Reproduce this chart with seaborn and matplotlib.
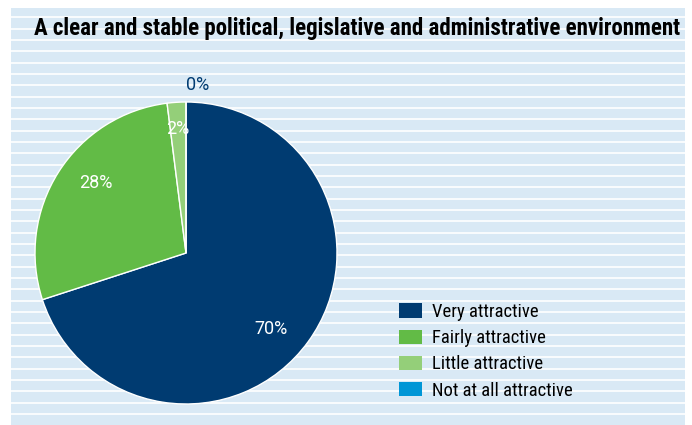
import numpy as np
import matplotlib
matplotlib.use("Agg")
import matplotlib.pyplot as plt
from matplotlib.patches import Patch
import seaborn as sns

# Survey answers for one location factor
categories = ["Very attractive", "Fairly attractive", "Little attractive", "Not at all attractive"]
shares = [70, 28, 2, 0]
pct_labels = ["70%", "28%", "2%", "0%"]
colors = ["#003b71", "#62bb46", "#94cf79", "#0096d6"]
title = "A clear and stable political, legislative and administrative environment"

sns.set_theme(style="white")
narrow = ["Roboto Condensed", "DejaVu Sans"]
plt.rcParams["font.family"] = ["Roboto", "DejaVu Sans"]

W, H = 692, 425
fig = plt.figure(figsize=(W / 100, H / 100), dpi=100, facecolor="white")

# Striped light-blue panel behind everything
bg = fig.add_axes([11 / W, 0, (685 - 11) / W, (425 - 8) / H])
bg.set_facecolor("#d9e9f5")
bg.set_xlim(0, 1)
bg.set_ylim(425, 8)
for y in np.arange(17.3, 420, 11.33):
    bg.axhline(y, color="white", lw=1.2)
bg.set_xticks([])
bg.set_yticks([])
for s in bg.spines.values():
    s.set_visible(False)

# Pie, clockwise from 12 o'clock
cx, cy, r = 186, 253, 151
ax = fig.add_axes([(cx - r) / W, (H - cy - r) / H, 2 * r / W, 2 * r / H])
ax.set_facecolor("none")
wedges, texts, autotexts = ax.pie(
    shares, colors=colors, startangle=90, counterclock=False,
    labels=None, autopct=lambda p: "", pctdistance=0.76,
    wedgeprops=dict(edgecolor="white", linewidth=1.0),
)
ax.set_xlim(-1, 1)
ax.set_ylim(-1, 1)
ax.set_aspect("auto")
ax.axis("off")

# Percentage labels: inside for wide slices, just above the rim for an empty one
for w, lab in zip(wedges, pct_labels):
    span = w.theta2 - w.theta1
    mid = (w.theta1 + w.theta2) / 2
    if span < 0.5:
        ax.text(0.0, 1.11, lab, ha="left", va="center", color="#003b71",
                fontsize=13, clip_on=False)
    elif span < 10:
        a = np.deg2rad(mid)
        ax.text(0.82 * np.cos(a), 0.82 * np.sin(a), lab, ha="center",
                va="center", color="white", fontsize=13)
    else:
        a = np.deg2rad(mid - 5.5)
        ax.text(0.755 * np.cos(a), 0.755 * np.sin(a), lab, ha="center",
                va="center", color="white", fontsize=13)

fig.text(357 / W, 1 - 28.5 / H, title, ha="center", va="center",
         fontsize=16.5, fontweight="bold", family=narrow, color="black")

handles = [Patch(facecolor=c, edgecolor="none") for c in colors]
leg = fig.legend(handles, categories, loc="upper left",
                 bbox_to_anchor=(386 / W, 1 - 290 / H), frameon=False,
                 prop=dict(family=narrow, size=13.4),
                 handlelength=1.24, handleheight=0.81, handletextpad=0.54,
                 labelspacing=0.44, borderpad=0.2)
for t in leg.get_texts():
    t.set_color("black")

fig.savefig("out.png", dpi=100, facecolor="white")
